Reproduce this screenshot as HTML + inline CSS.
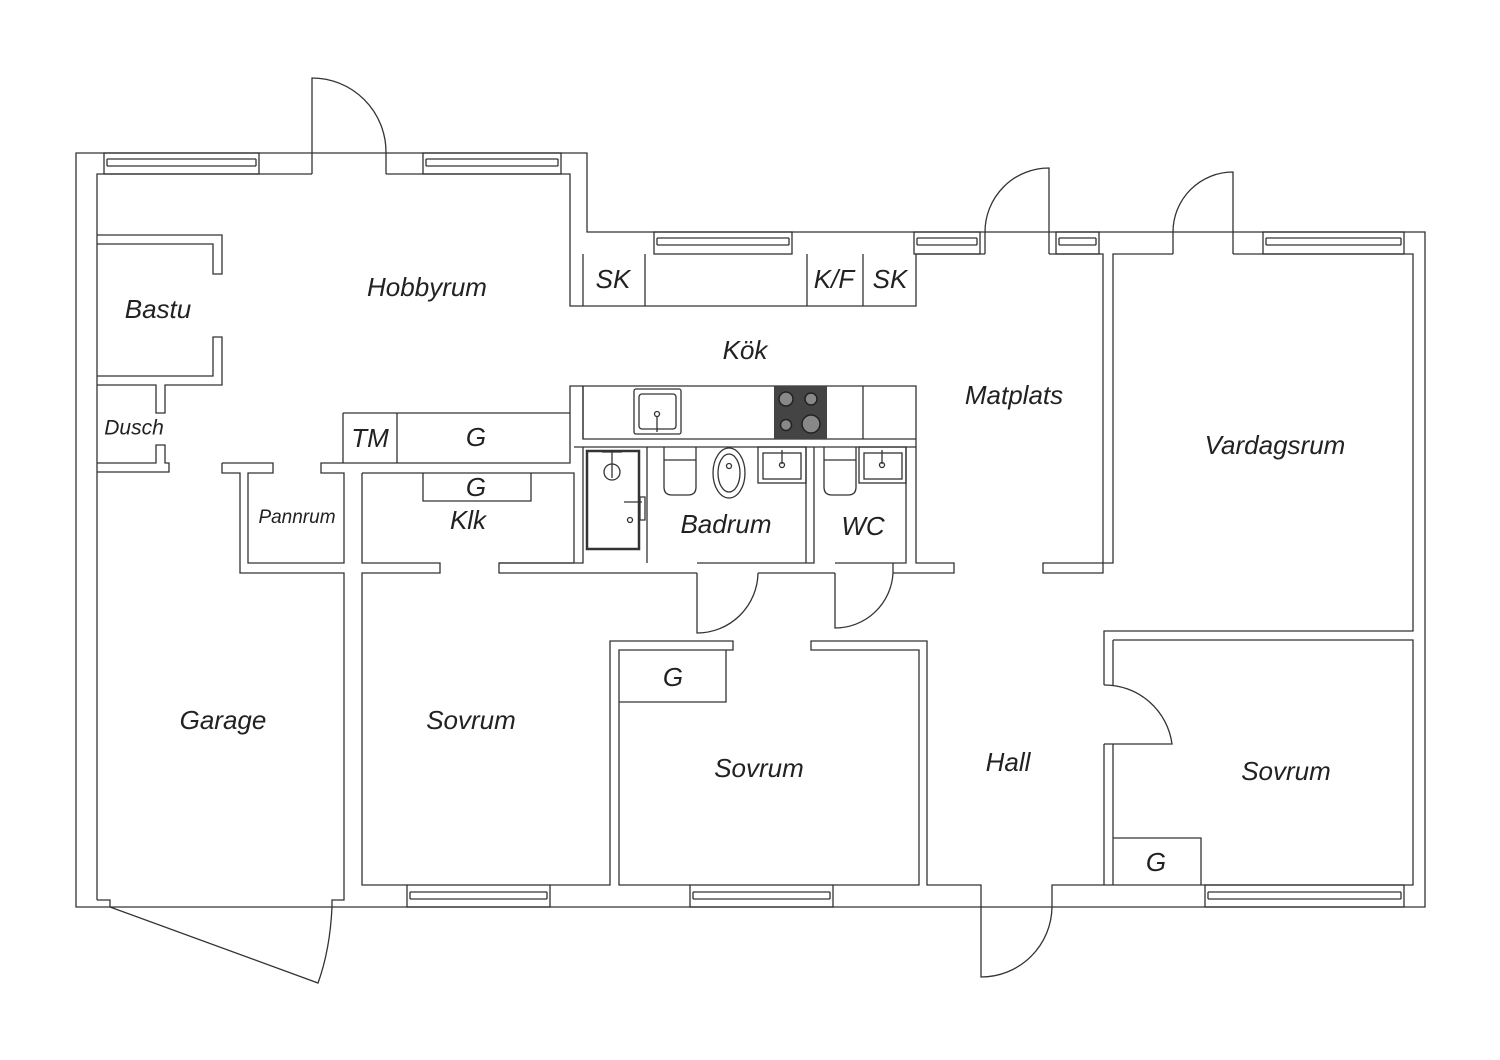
<!DOCTYPE html>
<html><head><meta charset="utf-8"><style>
html,body{margin:0;padding:0;background:#fff;}
svg{display:block;}
text{font-family:"Liberation Sans",sans-serif;font-style:italic;fill:#222;text-anchor:middle;dominant-baseline:middle;}
</style></head><body>
<svg width="1500" height="1060" viewBox="0 0 1500 1060" xmlns="http://www.w3.org/2000/svg">
<g fill="none" stroke="#333" stroke-width="1.3">
<path d="M76 153 H587 V232 H1425 V907 H76 Z"/>
<path d="M97 900 V174 H312 M386 174 H570 V306 H916 V254 H985 M1049 254 H1103 V573 H1043 V563 H1113 V254 H1173 M1233 254 H1413 V631 H1104 V685 M1104 744 V885"/>
<path d="M1113 640 H1413 V885 H1052 V907 M1113 640 V685 M1113 744 V885"/>
<path d="M97 235 H222 V274 H213 V244 H97"/>
<path d="M97 376 H213 V337 H222 V385 H165 V413 H156 V385 H97"/>
<path d="M97 463 H156 V445 H165 V463 H169 V472 H97"/>
<path d="M222 463 H273 V473 H248 V563 H344 V473 H321 V463 H570 V386 H916 V563 H954 V573 H893"/>
<path d="M222 463 V473 H240 V573 H344 V900 H332 V907 M110 907 V900 H97"/>
<path d="M362 473 H574 V563 H499 V573 H697 M758 573 H835 M362 473 V563 H440 V573 H362 V885 H407 M550 885 H610 V641 H733 V650 H619 V885 H690 M833 885 H919 V650 H811 V641 H927 V885 H981 V907"/>
<path d="M499 563 H583 V447 H916 M583 439 V386 M697 563 H806 V447 M814 447 V563 H758 M835 563 H906 V447 M893 563 V573 M574 447 H583"/>
<path d="M647 447 V563 M583 254 V306 M645 254 V306 M807 254 V306 M863 254 V306 M583 386 V439 H916 M863 386 V439"/>
<path d="M343 413 H570 M343 413 V463 M397 413 V463 M423 473 V501 H531 V473"/>
<path d="M619 702 H726 V650 M1113 838 H1201 V885"/>
<g>
<rect x="104" y="153" width="155" height="21"/><path d="M107 159 H256 M107 166 H256 M107 159 V166 M256 159 V166"/>
<rect x="423" y="153" width="138" height="21"/><path d="M426 159 H558 M426 166 H558 M426 159 V166 M558 159 V166"/>
<rect x="654" y="232" width="138" height="22"/><path d="M657 238 H789 M657 245 H789 M657 238 V245 M789 238 V245"/>
<rect x="914" y="232" width="66" height="22"/><path d="M917 238 H977 M917 245 H977 M917 238 V245 M977 238 V245"/>
<rect x="1056" y="232" width="43" height="22"/><path d="M1059 238 H1096 M1059 245 H1096 M1059 238 V245 M1096 238 V245"/>
<rect x="1263" y="232" width="141" height="22"/><path d="M1266 238 H1401 M1266 245 H1401 M1266 238 V245 M1401 238 V245"/>
<rect x="407" y="885" width="143" height="22"/><path d="M410 892 H547 M410 899 H547 M410 892 V899 M547 892 V899"/>
<rect x="690" y="885" width="143" height="22"/><path d="M693 892 H830 M693 899 H830 M693 892 V899 M830 892 V899"/>
<rect x="1205" y="885" width="199" height="22"/><path d="M1208 892 H1401 M1208 899 H1401 M1208 892 V899 M1401 892 V899"/>
</g>
<path d="M312 174 V78 A74 74 0 0 1 386 152 V174"/>
<path d="M1049 254 V168 A64 64 0 0 0 985 232 V254"/>
<path d="M1233 254 V172 A60 60 0 0 0 1173 232 V254"/>
<path d="M697 573 V633 A61 61 0 0 0 758 573"/>
<path d="M835 573 V628 A58 58 0 0 0 893 573"/>
<path d="M981 907 V977 A71 71 0 0 0 1052 907"/>
<path d="M1104 685 A68 68 0 0 1 1172 744 H1104"/>
<path d="M110 907 L318 983 Q330 950 332 907"/>
<rect x="634" y="389" width="47" height="45" rx="2"/><rect x="639" y="394" width="37" height="35" rx="3"/>
<circle cx="657" cy="414" r="2.5"/><path d="M657 416 V432"/>
<rect x="587" y="451" width="52" height="98" stroke-width="2.5"/>
<circle cx="612" cy="472" r="8"/><path d="M612 450 V478 M602 452 H622"/>
<path d="M624 502 H642 M640 497 V520 H645 V497 Z"/><circle cx="630" cy="520" r="2.5"/>
<path d="M664 447 V487 Q664 495 672 495 H688 Q696 495 696 487 V447 M664 460 H696"/>
<ellipse cx="729" cy="473" rx="16" ry="25"/><ellipse cx="729" cy="473" rx="11" ry="19"/><circle cx="729" cy="466" r="2.5"/>
<rect x="758" y="447" width="48" height="36"/><rect x="763" y="453" width="38" height="26"/><path d="M782 450 V464"/><circle cx="782" cy="465" r="2.5"/>
<path d="M824 447 V487 Q824 495 832 495 H848 Q856 495 856 487 V447 M824 460 H856"/>
<rect x="859" y="447" width="47" height="36"/><rect x="864" y="453" width="38" height="26"/><path d="M882 450 V464"/><circle cx="882" cy="465" r="2.5"/>
</g>
<rect x="774" y="386" width="53" height="53" fill="#444"/>
<g fill="#888" stroke="#222" stroke-width="1.5">
<circle cx="786" cy="399" r="7"/><circle cx="811" cy="399" r="6"/><circle cx="786" cy="425" r="5.5"/><circle cx="811" cy="424" r="9"/>
</g>
<g font-size="26">
<text x="427" y="289">Hobbyrum</text>
<text x="158" y="311">Bastu</text>
<text x="370" y="440">TM</text>
<text x="476" y="439">G</text>
<text x="476" y="489">G</text>
<text x="468" y="522">Klk</text>
<text x="613" y="281">SK</text>
<text x="834" y="281">K/F</text>
<text x="890" y="281">SK</text>
<text x="745" y="352">Kök</text>
<text x="1014" y="397">Matplats</text>
<text x="1275" y="447">Vardagsrum</text>
<text x="726" y="526">Badrum</text>
<text x="863" y="528">WC</text>
<text x="223" y="722">Garage</text>
<text x="471" y="722">Sovrum</text>
<text x="673" y="679">G</text>
<text x="759" y="770">Sovrum</text>
<text x="1008" y="764">Hall</text>
<text x="1286" y="773">Sovrum</text>
<text x="1156" y="864">G</text>
</g>
<text x="134" y="429" font-size="21">Dusch</text>
<text x="297" y="518" font-size="19">Pannrum</text>
</svg>
</body></html>
